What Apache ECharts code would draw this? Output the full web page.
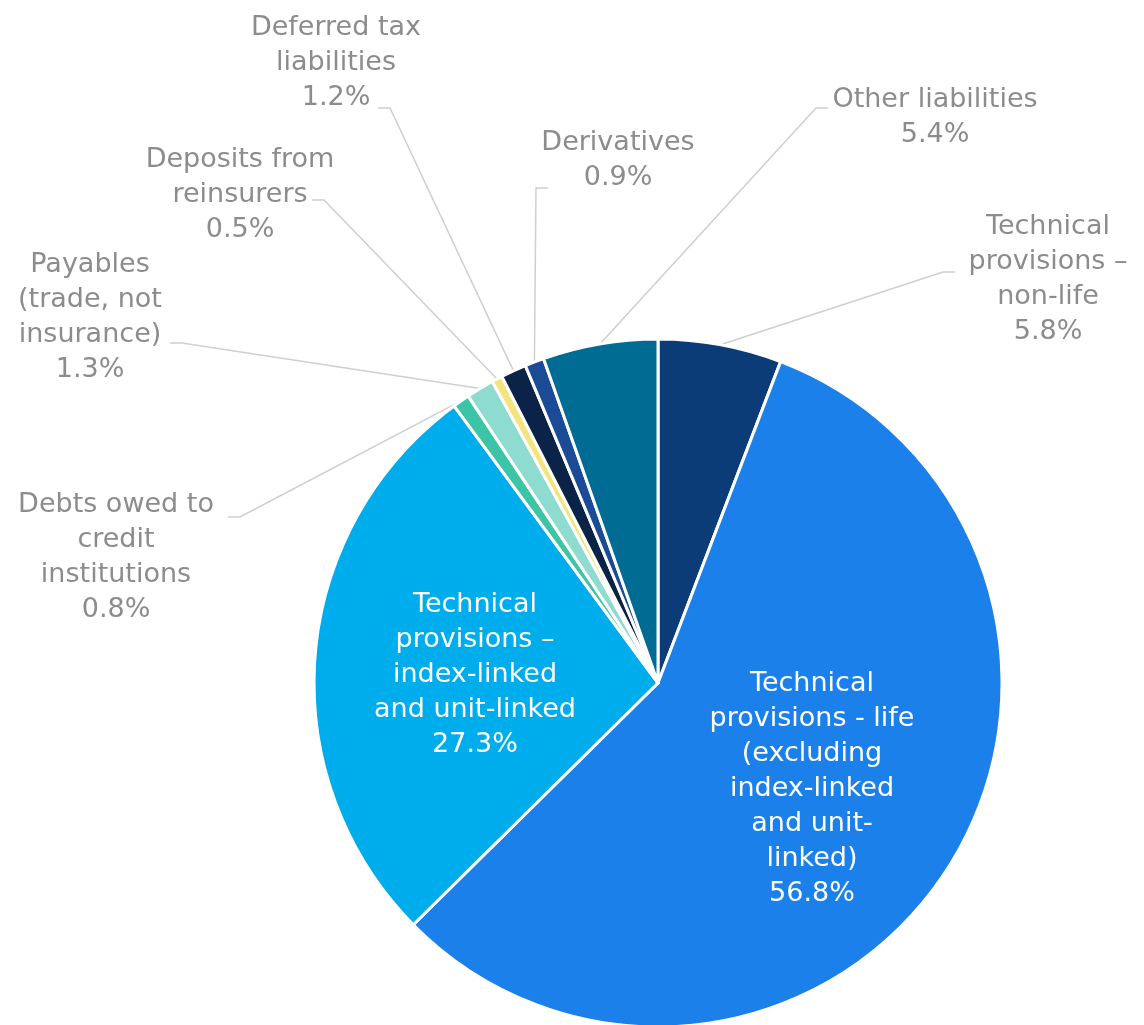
<!DOCTYPE html>
<html>
<head>
<meta charset="utf-8">
<script src="https://cdn.jsdelivr.net/npm/echarts@6/dist/echarts.min.js"></script>
<style>
  html, body { margin: 0; padding: 0; background: #ffffff; }
  #chart { width: 1144px; height: 1025px; }
</style>
</head>
<body>
<div id="chart"></div>
<script>
// Liability categories, clockwise from 12 o'clock (line breaks as printed)
const categories = [
  'Technical\nprovisions –\nnon-life',
  'Technical\nprovisions - life\n(excluding\nindex-linked\nand unit-\nlinked)',
  'Technical\nprovisions –\nindex-linked\nand unit-linked',
  'Debts owed to\ncredit\ninstitutions',
  'Payables\n(trade, not\ninsurance)',
  'Deposits from\nreinsurers',
  'Deferred tax\nliabilities',
  'Derivatives',
  'Other liabilities'
];

// Share of total liabilities, in percent
const shares = [5.8, 56.8, 27.3, 0.8, 1.3, 0.5, 1.2, 0.9, 5.4];

// Slice colours, same order as categories
const sliceColours = [
  '#0c3c78', '#1b80e9', '#00adec', '#3cc4a6', '#8edcd0',
  '#f3e57c', '#0b2347', '#1b4b97', '#006c94'
];

// The two large slices carry their label inside
const insideLabel = [false, true, true, false, false, false, false, false, false];

// Where each label block sits (centre of text) and where its leader line meets it
const labelSpots = [
  { x: 1048, y: 279, end: [955, 272] },
  { x: 812,  y: 789 },
  { x: 475,  y: 675 },
  { x: 116,  y: 557, end: [228, 517] },
  { x: 90,   y: 317, end: [170, 343] },
  { x: 240,  y: 195, end: [312, 200] },
  { x: 336,  y: 63,  end: [378, 108] },
  { x: 618,  y: 160, end: [548, 188] },
  { x: 935,  y: 117, end: [828, 108] }
];

const FONT = '"DejaVu Sans", Verdana, sans-serif';

const pieData = categories.map((name, i) => {
  const item = {
    name: name,
    value: shares[i],
    itemStyle: { color: sliceColours[i] }
  };
  if (insideLabel[i]) {
    item.label = { position: 'inside', color: '#ffffff' };
    item.labelLine = { show: false };
  }
  return item;
});

const chart = echarts.init(document.getElementById('chart'), null, { renderer: 'canvas' });

chart.setOption({
  backgroundColor: '#ffffff',
  animation: false,
  series: [{
    type: 'pie',
    center: [658, 683],
    radius: 344,
    startAngle: 90,
    clockwise: true,
    avoidLabelOverlap: false,
    itemStyle: { borderColor: '#ffffff', borderWidth: 3 },
    emphasis: { disabled: true },
    label: {
      show: true,
      position: 'outside',
      fontFamily: FONT,
      fontSize: 27,
      lineHeight: 35,
      color: '#8c8c8c',
      align: 'center',
      formatter: p => p.name + '\n' + p.value.toFixed(1) + '%'
    },
    labelLine: {
      show: true,
      length: 20,
      length2: 12,
      lineStyle: { color: '#cfcfcf', width: 1.5 }
    },
    labelLayout: function (params) {
      const spot = labelSpots[params.dataIndex];
      const out = { x: spot.x, y: spot.y, align: 'center', verticalAlign: 'middle' };
      if (spot.end && params.labelLinePoints) {
        const start = params.labelLinePoints[0];
        const end = spot.end;
        const elbow = [end[0] + (end[0] > start[0] ? -12 : 12), end[1]];
        out.labelLinePoints = [[start[0], start[1]], elbow, [end[0], end[1]]];
      }
      return out;
    },
    data: pieData
  }]
});
</script>
</body>
</html>
